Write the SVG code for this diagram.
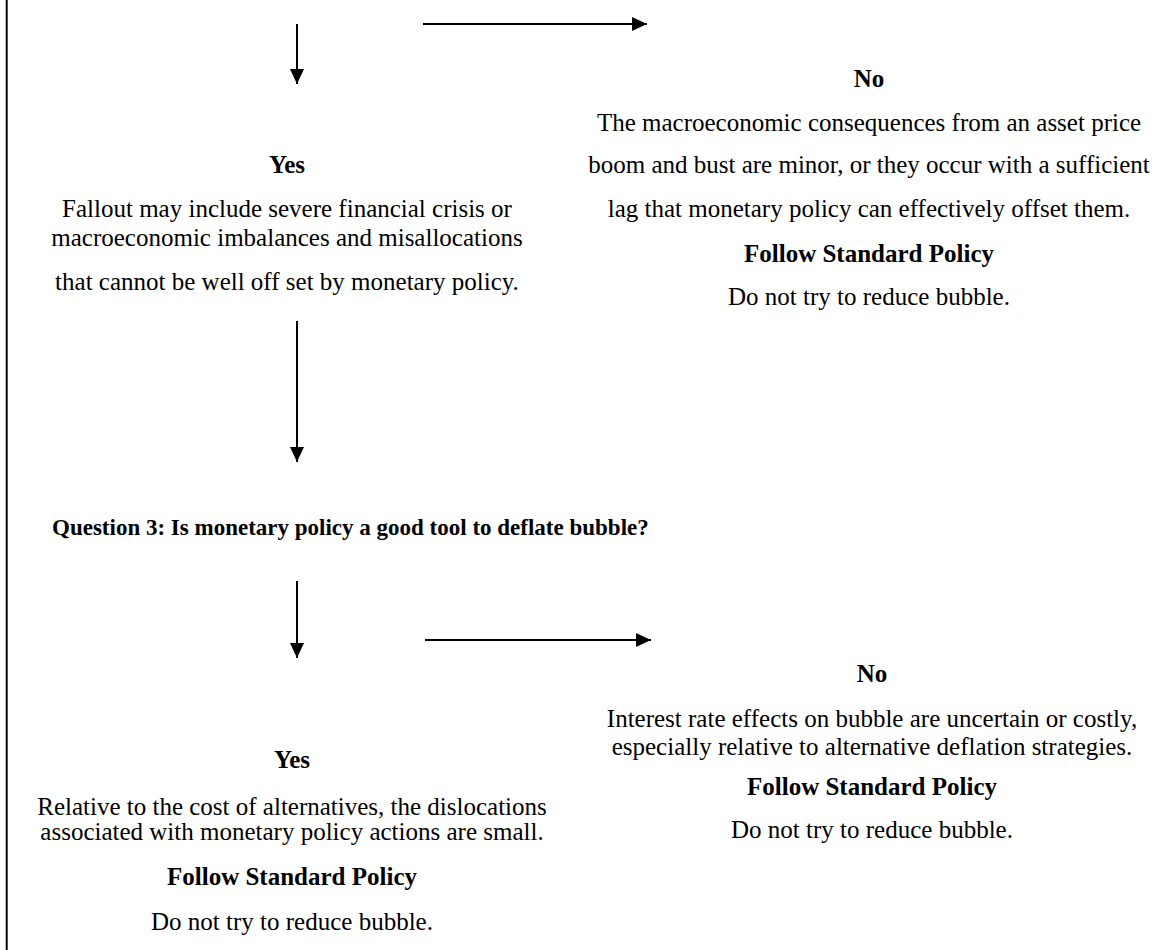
<svg xmlns="http://www.w3.org/2000/svg" width="1166" height="950" viewBox="0 0 1166 950">
<defs>
<marker id="ah" markerUnits="userSpaceOnUse" markerWidth="15" markerHeight="14" refX="15" refY="7" orient="auto">
<path d="M0,0 L15,7 L0,14 z" fill="#000"/>
</marker>
<style>
text{font-family:"Liberation Serif","Times New Roman",serif;font-size:25px;fill:#000}
.b{font-weight:bold}
.c{text-anchor:middle}
.q{font-size:23px}
.conn line{stroke:#000;stroke-width:2;fill:none}
</style>
</defs>
<rect width="1166" height="950" fill="#fff"/>
<line x1="6.7" y1="0" x2="6.7" y2="950" stroke="#000" stroke-width="2"/>
<g id="connectors" class="conn">
<line x1="297" y1="24" x2="297" y2="84" marker-end="url(#ah)"/>
<line x1="423" y1="24" x2="647" y2="24" marker-end="url(#ah)"/>
<line x1="297" y1="321" x2="297" y2="462" marker-end="url(#ah)"/>
<line x1="297" y1="581" x2="297" y2="658" marker-end="url(#ah)"/>
<line x1="425" y1="640" x2="651" y2="640" marker-end="url(#ah)"/>
</g>
<g id="no1">
<text class="b c" x="869" y="87">No</text>
<text class="c" x="869" y="131">The macroeconomic consequences from an asset price</text>
<text class="c" x="869" y="173">boom and bust are minor, or they occur with a sufficient</text>
<text class="c" x="869" y="217">lag that monetary policy can effectively offset them.</text>
<text class="b c" x="869" y="262">Follow Standard Policy</text>
<text class="c" x="869" y="305">Do not try to reduce bubble.</text>
</g>
<g id="yes1">
<text class="b c" x="287" y="173">Yes</text>
<text class="c" x="287" y="217">Fallout may include severe financial crisis or</text>
<text class="c" x="287" y="246">macroeconomic imbalances and misallocations</text>
<text class="c" x="287" y="290">that cannot be well off set by monetary policy.</text>
</g>
<g id="q3">
<text class="b q" x="52" y="535">Question 3: Is monetary policy a good tool to deflate bubble?</text>
</g>
<g id="yes2">
<text class="b c" x="292" y="768">Yes</text>
<text class="c" x="292" y="815">Relative to the cost of alternatives, the dislocations</text>
<text class="c" x="292" y="840">associated with monetary policy actions are small.</text>
<text class="b c" x="292" y="885">Follow Standard Policy</text>
<text class="c" x="292" y="930">Do not try to reduce bubble.</text>
</g>
<g id="no2">
<text class="b c" x="872" y="682">No</text>
<text class="c" x="872" y="727">Interest rate effects on bubble are uncertain or costly,</text>
<text class="c" x="872" y="755">especially relative to alternative deflation strategies.</text>
<text class="b c" x="872" y="795">Follow Standard Policy</text>
<text class="c" x="872" y="838">Do not try to reduce bubble.</text>
</g>
</svg>
